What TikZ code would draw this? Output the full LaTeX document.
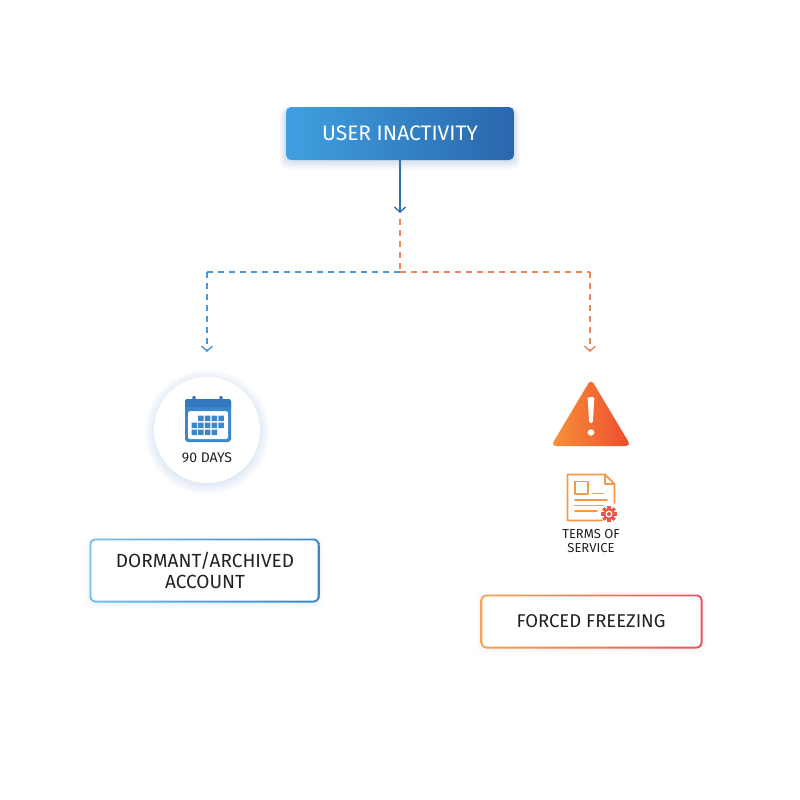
\documentclass[tikz,border=0pt]{standalone}
\usepackage{fontspec}
\setmainfont{Fira Sans}
\usetikzlibrary{arrows.meta}
\definecolor{topL}{HTML}{3FA0E0}
\definecolor{topR}{HTML}{2A66AE}
\definecolor{arrblue}{HTML}{2F6DB5}
\definecolor{dblue}{HTML}{4C98D6}
\definecolor{dorange}{HTML}{F0845A}
\definecolor{calblue}{HTML}{3C86CC}
\definecolor{calhead}{HTML}{3479C0}
\definecolor{triA}{HTML}{F8923A}
\definecolor{triB}{HTML}{EC4B2E}
\definecolor{docA}{HTML}{F39A4A}
\definecolor{docB}{HTML}{E9564A}
\definecolor{bxblueA}{HTML}{74C0EA}
\definecolor{bxblueB}{HTML}{3D86C8}
\definecolor{bxorA}{HTML}{F6A452}
\definecolor{bxorB}{HTML}{E8545C}
\definecolor{txt}{HTML}{222222}
\begin{document}
\begin{tikzpicture}[x=1pt,y=-1pt,
  lbl/.style={text=txt, inner sep=0pt, align=center},
  dashblue/.style={draw=dblue, line width=1.4pt, dash pattern=on 6pt off 5pt},
  dashorange/.style={draw=dorange, line width=1.4pt, dash pattern=on 6pt off 5pt},
  chev/.style={-{Straight Barb[length=5pt,width=11pt,line width=1.4pt]}},
]
\useasboundingbox (0,0) rectangle (800,800);
\fill[white] (0,0) rectangle (800,800);

% shadow of top box
\foreach \i in {1,...,8}{
  \fill[topR, opacity=0.022, rounded corners=8] (286-\i*0.8,110-\i*0.3) rectangle (514+\i*0.8,160+\i*1.2);
}
\node[minimum width=228pt, minimum height=53pt, rounded corners=5pt,
  left color=topL, right color=topR, text=white, font=\fontsize{21}{24}\selectfont, inner sep=0pt]
  (top) at (400,133.5) {USER INACTIVITY};

% connectors
\coordinate (arrend) at (400,213);
\coordinate (dstart) at (400,219);
\coordinate (split) at (400,272);
\coordinate (lcorner) at (207,272);
\coordinate (rcorner) at (590,272);
\coordinate (lend) at (207,352);
\coordinate (rend) at (590,352);
\draw[arrblue, line width=1.5pt, chev] (top.south) -- (arrend);
\draw[dashorange] (dstart) -- (split);
\draw[dashblue] (split) -- (lcorner);
\draw[dashblue, chev] (lcorner) -- (lend);
\draw[dashorange] (split) -- (rcorner);
\draw[dashorange, chev] (rcorner) -- (rend);

% circle with glow
\foreach \i in {1,...,10}{
  \fill[calblue, opacity=0.010] (207,432) circle (52+\i*1.1);
}
\node[circle, fill=white, minimum size=106pt, inner sep=0pt] (circ) at (207,430) {};
% calendar icon
\fill[calblue, rounded corners=3pt] (185,399) rectangle (231,442);
\fill[white, rounded corners=1.5pt] (188,411) rectangle (228,439);
\fill[calhead, rounded corners=2pt] (185,399) rectangle (231,411);
\fill[calblue] (185,407) rectangle (231,411);
\foreach \x in {194,221}{
  \fill[calhead, rounded corners=1pt] (\x-1.6,396) rectangle (\x+1.6,403);
}
\foreach \c in {2,3,4,5}{ \fill[calblue, rounded corners=0.5pt] (184.8+\c*6.7,415.5) rectangle (190.3+\c*6.7,421); }
\foreach \c in {1,2,3,4,5}{ \fill[calblue, rounded corners=0.5pt] (184.8+\c*6.7,422.5) rectangle (190.3+\c*6.7,428); }
\foreach \c in {1,2,3,4}{ \fill[calblue, rounded corners=0.5pt] (184.8+\c*6.7,429.5) rectangle (190.3+\c*6.7,435); }
\node[lbl, font=\fontsize{14}{16}\selectfont] (days) at (207,458) {90 DAYS};

% warning triangle
\shade[left color=triA, right color=triB, rounded corners=5pt]
  (591,379) -- (631,446) -- (551,446) -- cycle;
\fill[white, rounded corners=1.5pt] (587.6,397) -- (594.4,397) -- (592.8,423) -- (589.2,423) -- cycle;
\fill[white] (591,432.5) circle (3.3);
\node[inner sep=0pt] (warn) at (591,420) {};

% document icon
\begin{scope}[line width=1.8pt, line cap=round, line join=round]
\draw[docA] (602,520.5) -- (567.5,520.5) -- (567.5,474.5) -- (605,474.5) -- (614.5,484) -- (614.5,503);
\draw[docA] (605,474.5) -- (605,484) -- (614.5,484);
\draw[docA] (575,481.5) rectangle (588,494);
\draw[docA] (593,493.5) -- (603,493.5);
\draw[docA] (575,500) -- (607,500);
\draw[docA] (575,505.5) -- (603,505.5);
\draw[docA] (575,511) -- (597,511);
\end{scope}
\begin{scope}[shift={(609,514)}]
\fill[docB] (0,0) circle (5.6);
\foreach \a in {0,45,...,315}{ \fill[docB, rotate=\a] (-1.6,-8) rectangle (1.6,-4); }
\fill[white] (0,0) circle (3.5);
\fill[docB] (0,0) circle (2.0);
\end{scope}
\node[lbl, font=\fontsize{13}{14}\selectfont] (tos) at (591,541) {TERMS OF\\SERVICE};

% dormant box
\foreach \i in {1,...,5}{
  \fill[bxblueB, opacity=0.012, rounded corners=8] (90-\i,540-\i*0.5) rectangle (319+\i,602+\i*1.3);
}
\shade[left color=bxblueA, right color=bxblueB, rounded corners=6pt] (89.5,538.5) rectangle (319.5,602.5);
\fill[white, rounded corners=4.5pt] (91.3,540.3) rectangle (317.7,600.7);
\node[lbl, font=\fontsize{19}{20.5}\selectfont] (dormant) at (205,570.5) {DORMANT/ARCHIVED\\ACCOUNT};

% forced box
\foreach \i in {1,...,5}{
  \fill[bxorB, opacity=0.012, rounded corners=8] (481-\i,596-\i*0.5) rectangle (702+\i,648+\i*1.3);
}
\shade[left color=bxorA, right color=bxorB, rounded corners=6pt] (480.5,594.5) rectangle (702.5,648.5);
\fill[white, rounded corners=4.5pt] (482.3,596.3) rectangle (700.7,646.7);
\node[lbl, font=\fontsize{18.5}{20}\selectfont] (forced) at (591,621.5) {FORCED FREEZING};
\end{tikzpicture}
\end{document}
